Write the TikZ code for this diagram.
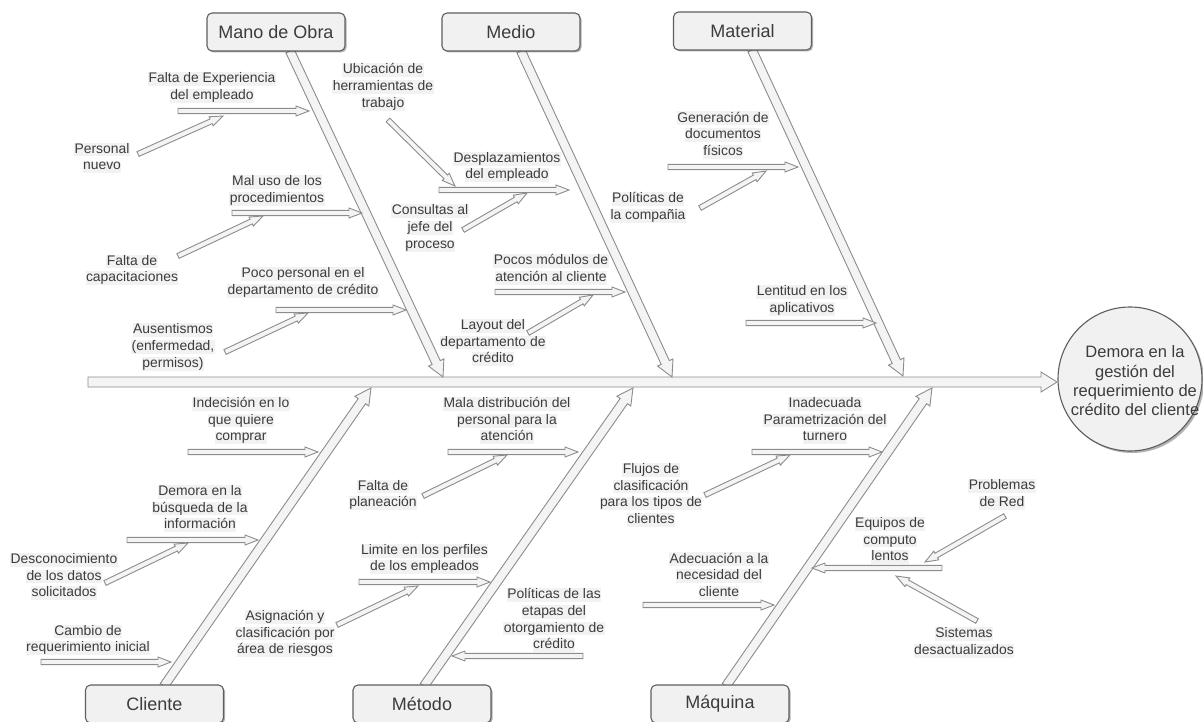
\documentclass[tikz,border=0pt]{standalone}
\usepackage{fontspec}
\setmainfont{Liberation Sans}
\usetikzlibrary{calc,shadows}
\definecolor{txtc}{HTML}{3C3C3C}
\definecolor{arrd}{HTML}{8C8C8C}
\definecolor{arrf}{HTML}{F4F4F4}
\definecolor{boxd}{HTML}{5E5E5E}
\definecolor{boxf}{HTML}{F1F1F1}
\definecolor{hlc}{HTML}{F2F2F2}
\newcommand\hlt[1]{{\setlength\fboxsep{0.4pt}\colorbox{hlc}{\rule[-0.2em]{0pt}{0.78em}#1}}}
% hollow arrow: [opts]{start}{end}{half shaft}{half head}{head length}
\newcommand\harr[6][]{%
  \coordinate (hA) at (#2); \coordinate (hB) at (#3);
  \coordinate (hH) at ($(hB)!#6!(hA)$);
  \draw[hollow,#1] ($(hA)!#4!90:(hB)$) -- ($(hH)!#4!-90:(hA)$) -- ($(hH)!#5!-90:(hA)$) -- (hB) -- ($(hH)!#5!90:(hA)$) -- ($(hH)!#4!90:(hA)$) -- ($(hA)!#4!-90:(hB)$) -- cycle;}
\newcommand\sarr[2]{\harr{#1}{#2}{2.6pt}{5pt}{13pt}}
\newcommand\barr[2]{\harr{#1}{#2}{4.5pt}{8.5pt}{16pt}}
\tikzset{
  txt/.style={text=txtc, font=\fontsize{13.9}{16.7}\selectfont, align=center, inner sep=0pt},
  cat/.style={draw=boxd, fill=boxf, line width=1.1pt, rounded corners=5pt, minimum width=138pt, minimum height=38pt, font=\fontsize{18}{21}\selectfont, text=txtc, drop shadow={shadow xshift=1.5pt, shadow yshift=-1.5pt, opacity=.3, fill=black}},
  effect/.style={circle, draw=boxd, fill=boxf, line width=1.1pt, minimum size=144pt, inner sep=0pt, drop shadow={shadow xshift=2pt, shadow yshift=-2pt, opacity=.3, fill=black}},
  efftxt/.style={text=txtc, align=center, inner sep=0pt, font=\fontsize{16.5}{19.3}\selectfont},
  hollow/.style={draw=arrd, fill=arrf, line width=0.9pt, line join=miter}
}
\begin{document}
\begin{tikzpicture}[x=1pt,y=-1pt]
\useasboundingbox (0,0) rectangle (1203,722);
% spine
\coordinate (sp0) at (88,382);
\coordinate (sp1) at (1057,382);
\harr{sp0}{sp1}{5pt}{10pt}{16pt}
% branch coordinates
\coordinate (mo0) at (290,51);  \coordinate (mo1) at (443,377);
\coordinate (me0) at (521,51);  \coordinate (me1) at (672,377);
\coordinate (ma0) at (752,50);  \coordinate (ma1) at (903,376);
\coordinate (cl0) at (164,686); \coordinate (cl1) at (371,388);
\coordinate (mt0) at (424,686); \coordinate (mt1) at (633,388);
\coordinate (mq0) at (726,686); \coordinate (mq1) at (932,388);
\barr{mo0}{mo1}
\barr{me0}{me1}
\barr{ma0}{ma1}
\barr{cl0}{cl1}
\barr{mt0}{mt1}
\barr{mq0}{mq1}
% small arrows
\sarr{178,111}{309,111}
\sarr{138,154}{223,116}
\sarr{232,213}{362,213}
\sarr{178,256}{263,216}
\sarr{276,310}{406,310}
\sarr{225,352}{308,313}
\sarr{388,120}{455,186}
\sarr{439,190}{569,190}
\sarr{463,230}{527,193}
\sarr{495,292}{625,292}
\sarr{528,333}{593,295}
\sarr{668,167}{798,167}
\sarr{700,208}{766,171}
\sarr{746,323}{876,323}
\sarr{188,452}{318,452}
\sarr{127,540}{258,540}
\sarr{105,583}{188,543}
\sarr{41,662}{171,662}
\sarr{448,452}{578,452}
\sarr{423,496}{507,455}
\sarr{359,582}{490,582}
\sarr{337,625}{418,586}
\sarr{583,656}{452,656}
\sarr{752,452}{882,452}
\sarr{705,495}{790,455}
\sarr{643,605}{774,605}
\sarr{942,568}{812,568}
\sarr{1005,516}{925,562}
\sarr{977,621}{896,576}
% texts
\node[txt] (t1) at (212,87.5) {\hlt{Falta de Experiencia}\\\hlt{del empleado}};
\node[txt] (t2) at (102,158) {\hlt{Personal}\\\hlt{nuevo}};
\node[txt] (t3) at (277,190.5) {\hlt{Mal uso de los}\\\hlt{procedimientos}};
\node[txt] (t4) at (132,270) {\hlt{Falta de}\\\hlt{capacitaciones}};
\node[txt] (t5) at (303,282.5) {\hlt{Poco personal en el}\\\hlt{departamento de crédito}};
\node[txt] (t6) at (173,347) {\hlt{Ausentismos}\\\hlt{(enfermedad,}\\\hlt{permisos)}};
\node[txt] (t7) at (383,87) {\hlt{Ubicación de}\\\hlt{herramientas de}\\\hlt{trabajo}};
\node[txt] (t8) at (507,167) {\hlt{Desplazamientos}\\\hlt{del empleado}};
\node[txt] (t9) at (430,228) {\hlt{Consultas al}\\\hlt{jefe del}\\\hlt{proceso}};
\node[txt] (t10) at (551,269.5) {\hlt{Pocos módulos de}\\\hlt{atención al cliente}};
\node[txt] (t11) at (493,342.5) {\hlt{Layout del}\\\hlt{departamento de}\\\hlt{crédito}};
\node[txt] (t12) at (723,135) {\hlt{Generación de}\\\hlt{documentos}\\\hlt{físicos}};
\node[txt] (t13) at (648,207.5) {\hlt{Políticas de}\\\hlt{la compañia}};
\node[txt] (t14) at (802,300.5) {\hlt{Lentitud en los}\\\hlt{aplicativos}};
\node[txt] (t15) at (241,420.5) {\hlt{Indecisión en lo}\\\hlt{que quiere}\\\hlt{comprar}};
\node[txt] (t16) at (200,508.5) {\hlt{Demora en la}\\\hlt{búsqueda de la}\\\hlt{información}};
\node[txt] (t17) at (64,576.5) {\hlt{Desconocimiento}\\\hlt{de los datos}\\\hlt{solicitados}};
\node[txt] (t18) at (88,640) {\hlt{Cambio de}\\\hlt{requerimiento inicial}};
\node[txt] (t19) at (507,420.5) {\hlt{Mala distribución del}\\\hlt{personal para la}\\\hlt{atención}};
\node[txt] (t20) at (383,495) {\hlt{Falta de}\\\hlt{planeación}};
\node[txt] (t21) at (424.5,559) {\hlt{Limite en los perfiles}\\\hlt{de los empleados}};
\node[txt] (t22) at (285,633.5) {\hlt{Asignación y}\\\hlt{clasificación por}\\\hlt{área de riesgos}};
\node[txt] (t23) at (554,620) {\hlt{Políticas de las}\\\hlt{etapas del}\\\hlt{otorgamiento de}\\\hlt{crédito}};
\node[txt] (t24) at (825,420.5) {\hlt{Inadecuada}\\\hlt{Parametrización del}\\\hlt{turnero}};
\node[txt] (t25) at (651,495) {\hlt{Flujos de}\\\hlt{clasificación}\\\hlt{para los tipos de}\\\hlt{clientes}};
\node[txt] (t26) at (719,576) {\hlt{Adecuación a la}\\\hlt{necesidad del}\\\hlt{cliente}};
\node[txt] (t27) at (890,540.5) {\hlt{Equipos de}\\\hlt{computo}\\\hlt{lentos}};
\node[txt] (t28) at (1002,494.5) {\hlt{Problemas}\\\hlt{de Red}};
\node[txt] (t29) at (964,642.5) {\hlt{Sistemas}\\\hlt{desactualizados}};
% category boxes
\node[cat] (manoobra) at (276,32) {Mano de Obra};
\node[cat] (medio) at (511,32) {Medio};
\node[cat] (material) at (742.5,31) {Material};
\node[cat] (cliente) at (154.5,704) {Cliente};
\node[cat] (metodo) at (422,704) {Método};
\node[cat] (maquina) at (720,704) {Máquina};
% effect
\node[effect] (efecto) at (1130,379) {};
\node[efftxt] (efectotxt) at (1135,381) {Demora en la\\gestión del\\requerimiento de\\crédito del cliente};
\end{tikzpicture}
\end{document}
